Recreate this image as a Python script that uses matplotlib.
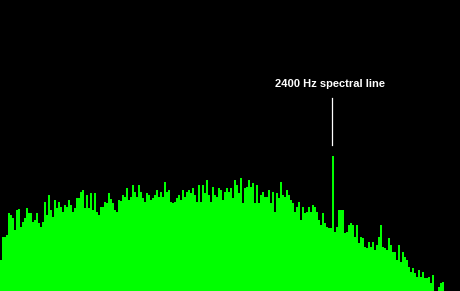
import matplotlib
matplotlib.use("Agg")
from matplotlib import pyplot as plt
import numpy as np

# spectrum level per frequency bin (arbitrary units above the floor)
level = [
    31, 54, 54, 56, 78, 76, 73, 61, 81, 82, 64, 69, 73, 83, 78, 78, 69, 71, 78, 68,
    64, 69, 89, 76, 96, 81, 74, 91, 83, 89, 84, 79, 86, 84, 91, 86, 79, 83, 93, 93,
    99, 101, 83, 96, 83, 98, 81, 98, 79, 76, 84, 84, 89, 88, 98, 92, 88, 81, 79, 91,
    90, 96, 94, 103, 91, 94, 106, 99, 94, 106, 99, 93, 89, 98, 96, 91, 93, 96, 101, 94,
    99, 94, 109, 99, 101, 89, 88, 89, 93, 96, 91, 101, 94, 99, 101, 98, 103, 96, 89, 106,
    89, 106, 98, 111, 96, 89, 104, 96, 94, 103, 101, 91, 99, 103, 99, 103, 93, 111, 106, 98,
    113, 88, 103, 104, 111, 104, 108, 88, 106, 88, 96, 99, 94, 94, 101, 88, 99, 79, 98, 93,
    109, 96, 94, 101, 96, 91, 88, 79, 84, 89, 71, 84, 78, 79, 84, 79, 86, 84, 79, 71,
    66, 78, 68, 64, 63, 63, 135, 59, 64, 81, 81, 81, 58, 59, 66, 68, 66, 54, 66, 48,
    54, 53, 44, 43, 49, 44, 49, 41, 46, 54, 66, 44, 43, 41, 53,
    46, 39, 39, 31, 46, 29, 39, 34, 31, 24, 19, 23, 18, 14, 21, 14, 19, 13, 13, 14,
    8, 16, 0, 0, 4, 8, 9, 0, 0, 0, 0, 0, 0, 0, 0,
]
line_bin = 166
line_label = "2400 Hz spectral line"

fig = plt.figure(figsize=(4.601, 2.911), dpi=100, facecolor="black")
ax = fig.add_axes([0, 0, 1, 1])
ax.set_facecolor("black")

bins = np.arange(len(level))
ax.bar(bins, level, width=1.0, align="edge", color="#00ff00",
       linewidth=0, antialiased=False)

# marker line and label for the tone
ax.plot([line_bin - 0.25, line_bin - 0.25], [146, 193], color="white", lw=0.9)
ax.text(line_bin - 1, 204, line_label, color="white", ha="center", va="baseline",
        fontsize=8, fontweight="bold", family=["Liberation Sans", "DejaVu Sans"])

ax.set_xlim(0, 230)
ax.set_ylim(0, 291)
ax.axis("off")

fig.savefig("out.png", dpi=100, facecolor="black")
